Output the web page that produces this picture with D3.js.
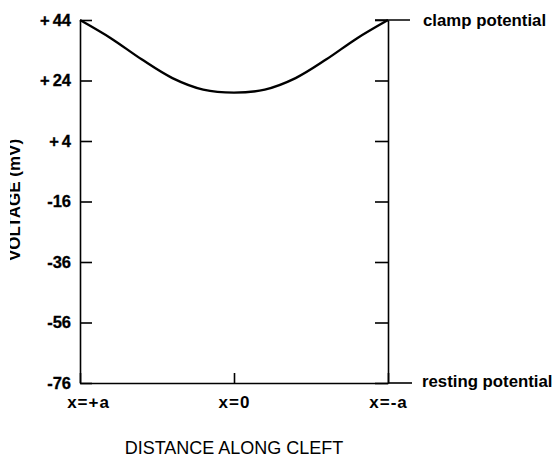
<!DOCTYPE html>
<html>
<head>
<meta charset="utf-8">
<script src="https://cdn.jsdelivr.net/npm/d3@7"></script>
<style>
  html, body { margin: 0; padding: 0; background: #fff; }
  svg { display: block; font-family: "Liberation Sans", Arial, Helvetica, sans-serif; }
</style>
</head>
<body>
<svg id="chart" width="553" height="458"></svg>
<script>
// ---- data ----
const positions = [-1, -0.8, -0.6, -0.4, -0.2, 0, 0.2, 0.4, 0.6, 0.8, 1];
const voltages  = [44, 38, 31, 24.8, 21, 20, 21, 24.8, 31, 38, 44];
const yTickValues = [44, 24, 4, -16, -36, -56, -76];
const yTickLabels = ["+44", "+24", "+4", "-16", "-36", "-56", "-76"];
const xTickValues = [-1, 0, 1];
const xTickLabels = ["x=+a", "x=0", "x=-a"];
const clampLabel = "clamp potential";
const restingLabel = "resting potential";
const xTitle = "DISTANCE ALONG CLEFT";
const yTitle = "VOLTAGE (mV)";

// ---- layout ----
const svg = d3.select("#chart");
const mLeft = 80, mRight = 388, mTop = 20, mBottom = 383;
const x = d3.scaleLinear().domain([-1, 1]).range([mLeft, mRight]);
const y = d3.scaleLinear().domain([-76, 44]).range([mBottom, mTop]);

const defs = svg.append("defs");
defs.append("clipPath").attr("id", "lblclip")
  .append("rect").attr("x", 10).attr("y", 0).attr("width", 60).attr("height", 458);

// left axis
const yAxis = d3.axisLeft(y)
  .tickValues(yTickValues)
  .tickFormat((d, i) => yTickLabels[i])
  .tickSizeInner(-12).tickSizeOuter(0).tickPadding(9);
const gy = svg.append("g").attr("transform", `translate(${mLeft},0)`).call(yAxis);
gy.selectAll(".tick text").each(function () {
  const t = d3.select(this);
  const s = t.text();
  if (s.startsWith("+")) {
    t.text(null);
    t.append("tspan").text("+");
    t.append("tspan").attr("dx", 3).text(s.slice(1));
  }
});
gy.selectAll("text").attr("font-size", 16.5).attr("font-weight", "bold")
  .attr("fill", "#000").attr("stroke", "#000").attr("stroke-width", 0.3)
  .attr("font-family", "'Liberation Sans', Arial, sans-serif");

// right axis (no labels)
const yAxisR = d3.axisRight(y)
  .tickValues(yTickValues)
  .tickFormat("")
  .tickSizeInner(-13).tickSizeOuter(0);
svg.append("g").attr("transform", `translate(${mRight},0)`).call(yAxisR);

// bottom axis
const xAxis = d3.axisBottom(x)
  .tickValues(xTickValues)
  .tickFormat((d, i) => xTickLabels[i])
  .tickSizeInner(-10).tickSizeOuter(0).tickPadding(13);
const gx = svg.append("g").attr("transform", `translate(0,${mBottom})`).call(xAxis);
gx.selectAll("text").attr("font-size", 17).attr("font-weight", "bold").attr("fill", "#000")
  .attr("letter-spacing", 1)
  .attr("font-family", "'Liberation Sans', Arial, sans-serif")
  .attr("dx", (d, i) => i === 0 ? 8 : 0);

svg.selectAll(".domain, .tick line").attr("stroke", "#000").attr("stroke-width", 1.6);

// extension lines (clamp & resting)
svg.append("line").attr("x1", mRight - 13).attr("x2", mRight + 22)
  .attr("y1", y(44)).attr("y2", y(44)).attr("stroke", "#000").attr("stroke-width", 1.6);
svg.append("line").attr("x1", mRight).attr("x2", mRight + 24)
  .attr("y1", y(-76)).attr("y2", y(-76)).attr("stroke", "#000").attr("stroke-width", 1.6);

svg.append("text").attr("x", 423).attr("y", y(44) + 6)
  .attr("font-size", 16.8).attr("font-weight", "bold").text(clampLabel);
svg.append("text").attr("x", 422).attr("y", y(-76) + 4)
  .attr("font-size", 16.8).attr("font-weight", "bold").text(restingLabel);

// curve
const line = d3.line().x((d, i) => x(positions[i])).y(d => y(d)).curve(d3.curveCatmullRom.alpha(0.5));
svg.append("path").datum(voltages).attr("d", line)
  .attr("fill", "none").attr("stroke", "#000").attr("stroke-width", 2.4);

// titles
svg.append("text").attr("x", (mLeft + mRight) / 2).attr("y", 454)
  .attr("text-anchor", "middle").attr("font-size", 18).text(xTitle);
svg.append("g").attr("clip-path", "url(#lblclip)")
  .append("text").attr("transform", "translate(20,200) rotate(-90)")
  .attr("text-anchor", "middle").attr("font-size", 17).attr("font-weight", "bold").text(yTitle);
</script>
</body>
</html>
